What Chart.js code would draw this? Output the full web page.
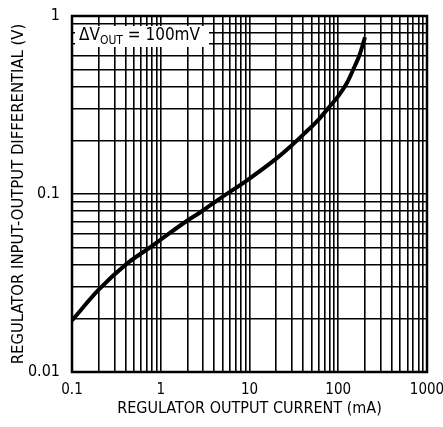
<!DOCTYPE html>
<html>
<head>
<meta charset="utf-8">
<title>Regulator Input-Output Differential</title>
<script src="https://cdn.jsdelivr.net/npm/chart.js@4.4.1/dist/chart.umd.min.js"></script>
<style>
  html, body { margin: 0; padding: 0; background: #fff; }
  #wrap { width: 443px; height: 427px; }
</style>
</head>
<body>
<div id="wrap"><canvas id="dropoutChart" width="443" height="427"></canvas></div>
<script>
// Dropout curve: input-output differential vs output current, dVout = 100mV

const currentMA = [0.1, 0.2, 0.4, 0.75, 1, 2, 2.8, 4.6, 9.3, 20, 30, 40, 60, 80, 100, 125, 150, 175, 200];
const differentialV = [0.0195, 0.029, 0.040, 0.050, 0.0555, 0.071, 0.079, 0.094, 0.119, 0.158, 0.188, 0.215, 0.262, 0.31, 0.355, 0.42, 0.51, 0.61, 0.76];

const xTickLabels = [0.1, 1, 10, 100, 1000];
const yTickLabels = [0.01, 0.1, 1];

const FONT = "'Liberation Sans Narrow', 'DejaVu Sans Condensed', 'Arial Narrow', sans-serif";
const INK = '#000';

/**
 * 1..9 x 10^n ticks between min and max (for the log paper grid)
 */
function logTicks(min, max) {
    const ticks = [];
    for (let e = Math.round(Math.log10(min)); e < Math.round(Math.log10(max)); e++) {
        for (let d = 1; d < 10; d++) {
            ticks.push({ value: +(d * Math.pow(10, e)).toPrecision(6) });
        }
    }
    ticks.push({ value: max });
    return ticks;
}

/**
 * Only print the decade labels
 */
function decadeLabel(list) {
    return value => list.some(v => Math.abs(v - value) < v * 1e-6) ? String(value) : '';
}

// heavy frame round the plot area
const framePlugin = {
    id: 'frame',
    afterDraw(chart) {
        const { ctx, chartArea: a } = chart;
        ctx.save();
        ctx.strokeStyle = INK;
        ctx.lineWidth = 2.5;
        ctx.strokeRect(a.left, a.top, a.right - a.left, a.bottom - a.top);
        ctx.restore();
    }
};

// "ΔV_OUT = 100mV" label on a white patch
const noteLabel = {
    id: 'noteLabel',
    beforeDatasetsDraw(chart) {
        const { ctx, chartArea: a } = chart;
        const x = a.left + 7;
        const y = a.top + 24;
        ctx.save();
        ctx.fillStyle = '#fff';
        ctx.fillRect(a.left + 3, a.top + 10, 134, 21);
        ctx.fillStyle = INK;
        ctx.textBaseline = 'alphabetic';
        ctx.font = `17px ${FONT}`;
        ctx.fillText('\u0394V', x, y);
        let cx = x + ctx.measureText('\u0394V').width;
        ctx.font = `12px ${FONT}`;
        ctx.fillText('OUT', cx, y + 4);
        cx += ctx.measureText('OUT').width;
        ctx.font = `17px ${FONT}`;
        ctx.fillText(' = 100mV', cx, y);
        ctx.restore();
    }
};

function buildChart() {
    const ctx = document.getElementById('dropoutChart').getContext('2d');

    return new Chart(ctx, {
        type: 'line',
        data: {
            datasets: [{
                data: currentMA.map((x, i) => ({ x, y: differentialV[i] })),
                borderColor: INK,
                borderWidth: 4,
                pointRadius: 0,
                cubicInterpolationMode: 'monotone',
                fill: false
            }]
        },
        options: {
            responsive: false,
            animation: false,
            layout: { padding: { top: 16, right: 16, left: 0, bottom: 0 } },
            plugins: {
                legend: { display: false },
                tooltip: { enabled: false }
            },
            scales: {
                x: {
                    type: 'logarithmic',
                    min: 0.1,
                    max: 1000,
                    afterBuildTicks: s => { s.ticks = logTicks(0.1, 1000); },
                    afterFit: s => { s.height = 55; s.paddingLeft = 0; s.paddingRight = 0; },
                    grid: { color: INK, lineWidth: 1.6, drawTicks: false },
                    border: { display: false },
                    ticks: {
                        autoSkip: false,
                        maxRotation: 0,
                        padding: 9,
                        color: INK,
                        font: { family: FONT, size: 15 },
                        callback: decadeLabel(xTickLabels)
                    },
                    title: {
                        display: true,
                        text: 'REGULATOR OUTPUT CURRENT (mA)',
                        color: INK,
                        font: { family: FONT, size: 16 },
                        padding: { top: 0, bottom: 9 }
                    }
                },
                y: {
                    type: 'logarithmic',
                    min: 0.01,
                    max: 1,
                    afterBuildTicks: s => { s.ticks = logTicks(0.01, 1); },
                    afterFit: s => { s.width = 72; s.paddingTop = 0; s.paddingBottom = 0; },
                    grid: { color: INK, lineWidth: 1.6, drawTicks: false },
                    border: { display: false },
                    ticks: {
                        autoSkip: false,
                        padding: 12,
                        color: INK,
                        font: { family: FONT, size: 16 },
                        callback: decadeLabel(yTickLabels)
                    },
                    title: {
                        display: true,
                        text: 'REGULATOR INPUT-OUTPUT DIFFERENTIAL (V)',
                        color: INK,
                        font: { family: FONT, size: 16.5 },
                        padding: { top: 9, bottom: 0 }
                    }
                }
            }
        },
        plugins: [noteLabel, framePlugin]
    });
}

document.addEventListener('DOMContentLoaded', () => {
    buildChart();
});
</script>
</body>
</html>
